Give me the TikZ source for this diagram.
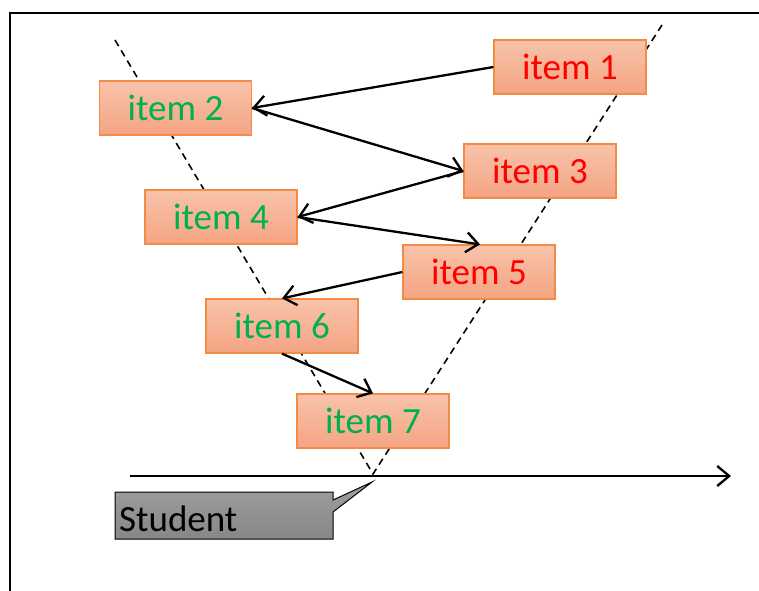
\documentclass[tikz,border=0pt]{standalone}
\usepackage{fontspec}
\setmainfont{Carlito}
\usetikzlibrary{arrows.meta}
\definecolor{itemtop}{HTML}{F8C3AA}
\definecolor{itembot}{HTML}{F4A482}
\definecolor{itemedge}{HTML}{F38B48}
\definecolor{itemred}{HTML}{FF0000}
\definecolor{itemgreen}{HTML}{00B050}
\tikzset{
  itembox/.style={draw=itemedge, line width=1.2pt, top color=itemtop, bottom color=itembot,
    minimum width=152pt, minimum height=54pt, inner sep=0pt,
    font=\fontsize{37}{40}\selectfont},
  redtext/.style={text=itemred},
  greentext/.style={text=itemgreen},
  link/.style={line width=2.3pt, -{Straight Barb[length=12pt,width=20pt,line width=2.3pt]}},
  guide/.style={line width=1.6pt, dash pattern=on 7pt off 5pt},
}
\begin{document}
\begin{tikzpicture}[x=1pt,y=-1pt]
  \useasboundingbox (0,0) rectangle (759,590);
  % frame
  \draw[line width=2pt] (9.5,600) -- (9.5,13) -- (770,13);
  % V-shaped guide lines
  \coordinate (vl) at (115,40);
  \coordinate (vr) at (662,25);
  \coordinate (vb) at (373,474);
  \draw[guide] (vl) -- (vb) -- (vr);
  % items
  \node[itembox, redtext]   (i1) at (570,67)    {item 1};
  \node[itembox, greentext] (i2) at (175.5,108) {item 2};
  \node[itembox, redtext]   (i3) at (540,171)   {item 3};
  \node[itembox, greentext] (i4) at (221,217)   {item 4};
  \node[itembox, redtext]   (i5) at (479,272)   {item 5};
  \node[itembox, greentext] (i6) at (282,326)   {item 6};
  \node[itembox, greentext] (i7) at (373,421)   {item 7};
  % ordering arrows
  \draw[link] (i1.west) -- (i2.east);
  \draw[link] (i2.east) -- (i3.west);
  \draw[link] (i3.west) -- (i4.east);
  \draw[link] (i4.east) -- ([xshift=1pt]i5.north);
  \draw[link] (i5.west) -- (i6.north);
  \draw[link] (i6.south) -- (i7.north);
  % axis
  \coordinate (a0) at (130,476);
  \coordinate (a1) at (731,476);
  \draw[link] (a0) -- (a1);
  % student callout
  \coordinate (tip) at (372,482);
  \draw[line width=1pt, top color=gray!75, bottom color=gray!95!black!90]
    (115,492) -- (333,492) -- (333,500) -- (tip) -- (333,512) -- (333,539) -- (115,539) -- cycle;
  \node[anchor=west, inner sep=0pt, font=\fontsize{37}{40}\selectfont] (st) at (119,519) {Student};
\end{tikzpicture}
\end{document}
